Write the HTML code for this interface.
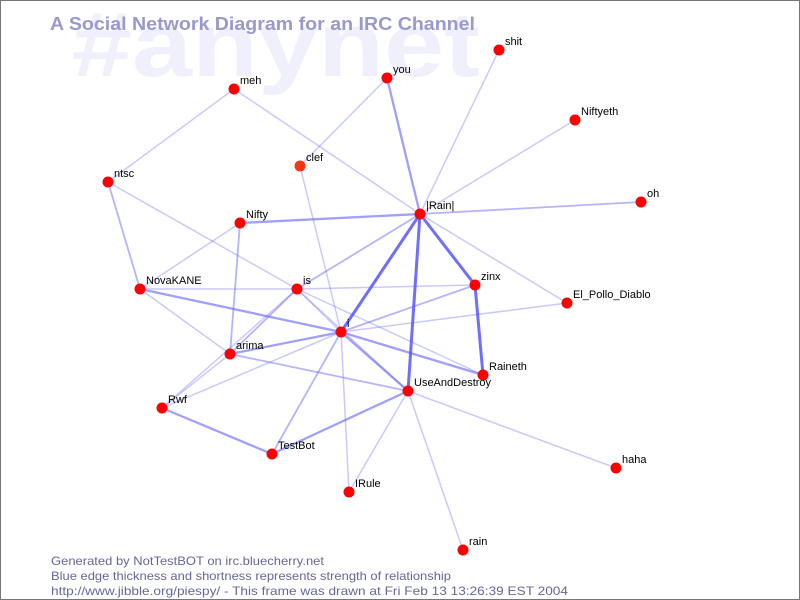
<!DOCTYPE html>
<html><head><meta charset="utf-8"><style>
html,body{margin:0;padding:0;background:#fff;}
svg{display:block;}
.t{font-family:"Liberation Sans",sans-serif;}
.lbl{font-family:"Liberation Sans",sans-serif;font-size:11px;fill:#000;}
</style></head><body>
<svg width="800" height="600" viewBox="0 0 800 600" xmlns="http://www.w3.org/2000/svg">
<rect x="0" y="0" width="800" height="600" fill="#fff"/>
<text class="t" x="72" y="76" font-size="92" font-weight="bold" fill="#f0f0fd" textLength="408" lengthAdjust="spacingAndGlyphs">#anynet</text>
<text class="t" x="50" y="30" font-size="18" font-weight="bold" fill="#9999cc" textLength="425" lengthAdjust="spacingAndGlyphs">A Social Network Diagram for an IRC Channel</text>

<g stroke-linecap="round" fill="none">
<g stroke="#6a6aff" stroke-opacity="0.36" stroke-width="1.5">
<line x1="234" y1="89" x2="108" y2="182"/>
<line x1="234" y1="89" x2="420" y2="214"/>
<line x1="387" y1="78" x2="300" y2="166"/>
<line x1="499" y1="50" x2="420" y2="214"/>
<line x1="575" y1="120" x2="420" y2="214"/>
<line x1="420" y1="214" x2="567" y2="303"/>
<line x1="108" y1="182" x2="297" y2="289"/>
<line x1="240" y1="223" x2="140" y2="289"/>
<line x1="140" y1="289" x2="297" y2="289"/>
<line x1="297" y1="289" x2="475" y2="285"/>
<line x1="140" y1="289" x2="230" y2="354"/>
<line x1="297" y1="289" x2="162" y2="408"/>
<line x1="297" y1="289" x2="341" y2="332"/>
<line x1="297" y1="289" x2="483" y2="375"/>
<line x1="297" y1="289" x2="408" y2="391"/>
<line x1="300" y1="166" x2="341" y2="332"/>
<line x1="341" y1="332" x2="567" y2="303"/>
<line x1="341" y1="332" x2="349" y2="492"/>
<line x1="341" y1="332" x2="162" y2="408"/>
<line x1="230" y1="354" x2="162" y2="408"/>
<line x1="408" y1="391" x2="349" y2="492"/>
<line x1="408" y1="391" x2="616" y2="468"/>
<line x1="408" y1="391" x2="463" y2="550"/>
</g>
<g stroke="#6a6aff" stroke-opacity="0.5" stroke-width="1.8">
<line x1="641" y1="202" x2="420" y2="214"/>
<line x1="420" y1="214" x2="297" y2="289"/>
<line x1="108" y1="182" x2="140" y2="289"/>
<line x1="240" y1="223" x2="230" y2="354"/>
<line x1="297" y1="289" x2="230" y2="354"/>
<line x1="341" y1="332" x2="475" y2="285"/>
<line x1="341" y1="332" x2="272" y2="454"/>
<line x1="230" y1="354" x2="408" y2="391"/>
</g>
<g stroke="#6464ff" stroke-opacity="0.62" stroke-width="2.3">
<line x1="387" y1="78" x2="420" y2="214"/>
<line x1="420" y1="214" x2="240" y2="223"/>
<line x1="140" y1="289" x2="341" y2="332"/>
<line x1="341" y1="332" x2="230" y2="354"/>
<line x1="341" y1="332" x2="483" y2="375"/>
<line x1="341" y1="332" x2="408" y2="391"/>
<line x1="162" y1="408" x2="272" y2="454"/>
<line x1="272" y1="454" x2="408" y2="391"/>
</g>
<g stroke="#5a5aff" stroke-opacity="0.88" stroke-width="3">
<line x1="420" y1="214" x2="341" y2="332"/>
<line x1="420" y1="214" x2="475" y2="285"/>
<line x1="420" y1="214" x2="408" y2="391"/>
<line x1="475" y1="285" x2="483" y2="375"/>
</g>
</g>

<g fill="#ff0000">
<circle cx="234" cy="89" r="5.5"/>
<circle cx="387" cy="78" r="5.5"/>
<circle cx="499" cy="50" r="5.5"/>
<circle cx="575" cy="120" r="5.5"/>
<circle cx="300" cy="166" r="5.5" fill="#ff3311"/>
<circle cx="108" cy="182" r="5.5"/>
<circle cx="420" cy="214" r="5.5"/>
<circle cx="641" cy="202" r="5.5"/>
<circle cx="240" cy="223" r="5.5"/>
<circle cx="140" cy="289" r="5.5"/>
<circle cx="297" cy="289" r="5.5"/>
<circle cx="475" cy="285" r="5.5"/>
<circle cx="567" cy="303" r="5.5"/>
<circle cx="341" cy="332" r="5.5"/>
<circle cx="230" cy="354" r="5.5"/>
<circle cx="483" cy="375" r="5.5"/>
<circle cx="408" cy="391" r="5.5"/>
<circle cx="162" cy="408" r="5.5"/>
<circle cx="272" cy="454" r="5.5"/>
<circle cx="616" cy="468" r="5.5"/>
<circle cx="349" cy="492" r="5.5"/>
<circle cx="463" cy="550" r="5.5"/>
</g>

<g class="lbl">
<text x="240" y="84">meh</text>
<text x="393" y="73">you</text>
<text x="505" y="45">shit</text>
<text x="581" y="115">Niftyeth</text>
<text x="306" y="161">clef</text>
<text x="114" y="177">ntsc</text>
<text x="426" y="209">|Rain|</text>
<text x="647" y="197">oh</text>
<text x="246" y="218">Nifty</text>
<text x="146" y="284">NovaKANE</text>
<text x="303" y="284">is</text>
<text x="481" y="280">zinx</text>
<text x="573" y="298">El_Pollo_Diablo</text>
<text x="347" y="327">i</text>
<text x="236" y="349">arima</text>
<text x="489" y="370">Raineth</text>
<text x="414" y="386">UseAndDestroy</text>
<text x="168" y="403">Rwf</text>
<text x="278" y="449">TestBot</text>
<text x="622" y="463">haha</text>
<text x="355" y="487">IRule</text>
<text x="469" y="545">rain</text>
</g>

<g class="t" font-size="12" fill="#666699">
<text x="51" y="565" textLength="273" lengthAdjust="spacingAndGlyphs">Generated by NotTestBOT on irc.bluecherry.net</text>
<text x="51" y="580" textLength="400" lengthAdjust="spacingAndGlyphs">Blue edge thickness and shortness represents strength of relationship</text>
<text x="51" y="595" textLength="517" lengthAdjust="spacingAndGlyphs">http://www.jibble.org/piespy/ - This frame was drawn at Fri Feb 13 13:26:39 EST 2004</text>
</g>

<rect x="0.5" y="0.5" width="799" height="599" fill="none" stroke="#777" stroke-width="1"/>
</svg>
</body></html>
